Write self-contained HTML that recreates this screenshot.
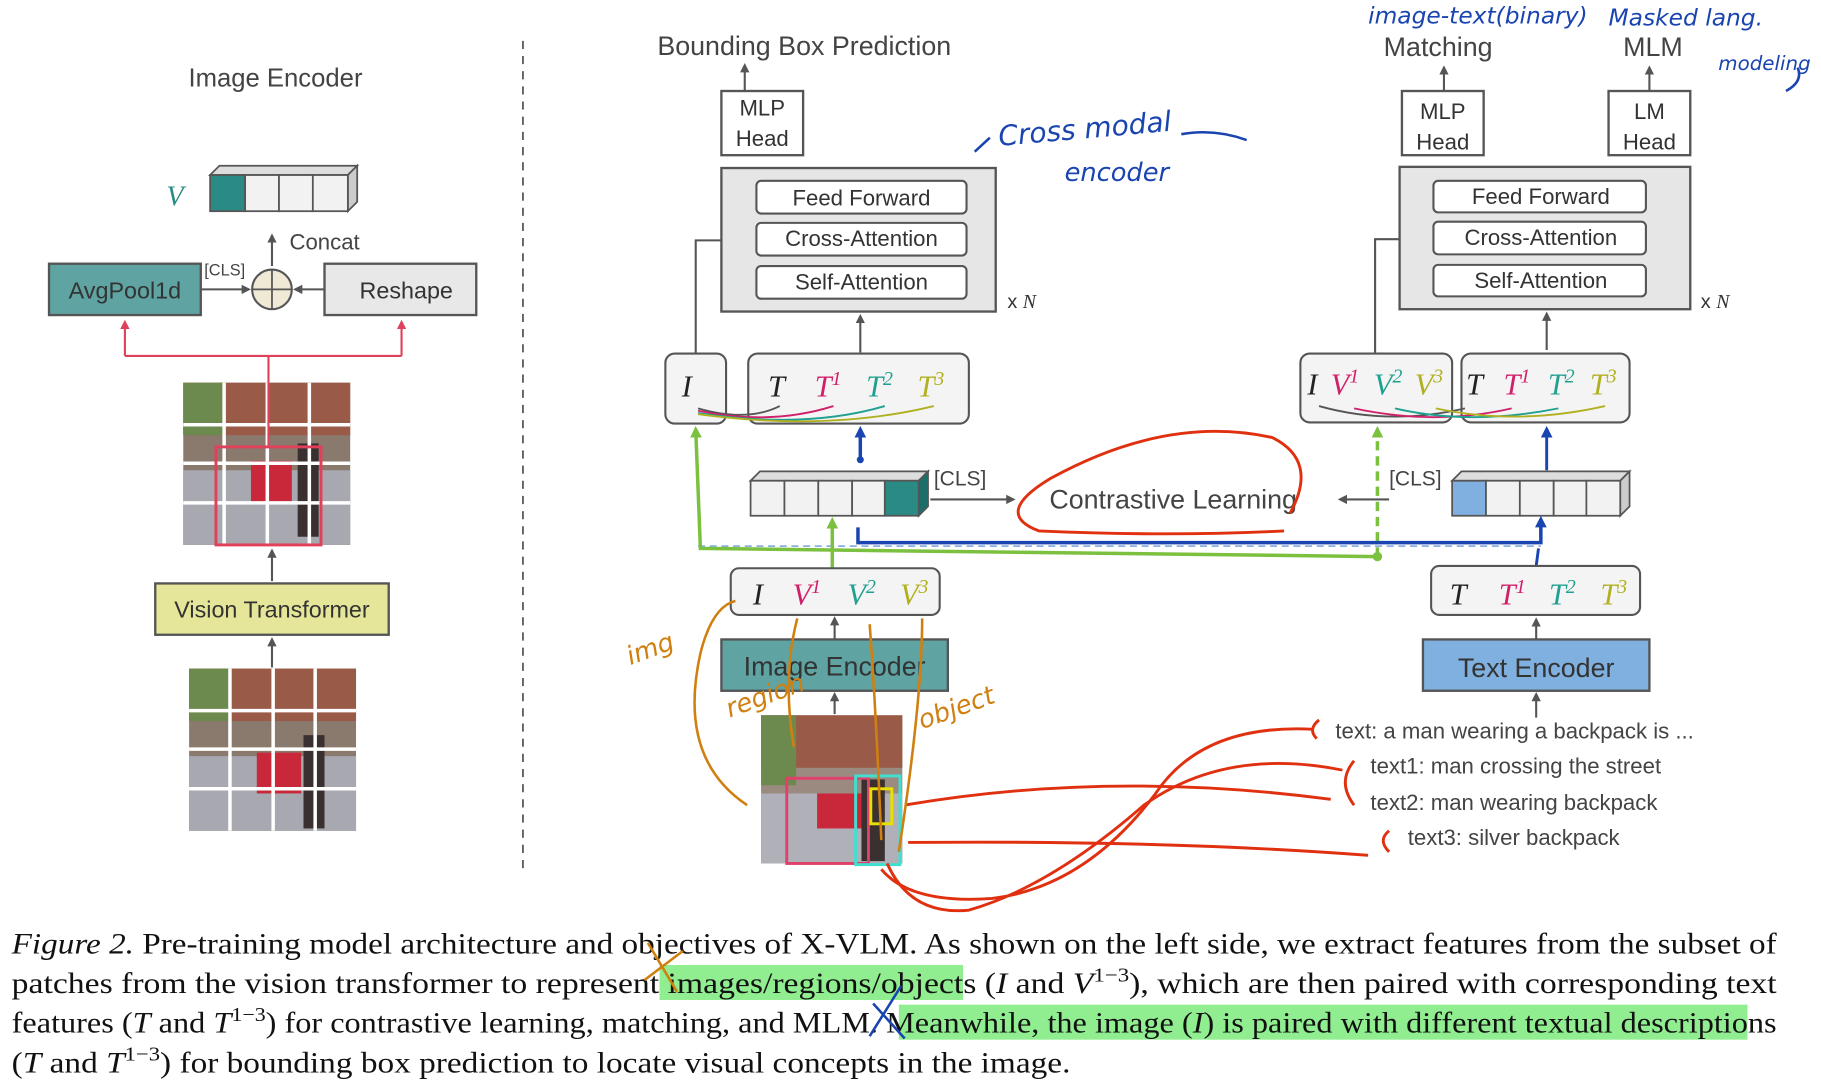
<!DOCTYPE html>
<html><head><meta charset="utf-8"><style>html,body{margin:0;padding:0;background:#fff;width:1821px;height:1084px;overflow:hidden}</style></head><body>
<svg width="1821" height="1084" viewBox="0 0 1560 929" preserveAspectRatio="none" xmlns="http://www.w3.org/2000/svg" font-family="Liberation Sans, sans-serif">
<defs>
<marker id="a" markerWidth="8" markerHeight="8" refX="6" refY="4" orient="auto" markerUnits="userSpaceOnUse"><path d="M0,0 L8,4 L0,8z" fill="#555"/></marker>
<marker id="ap" markerWidth="8" markerHeight="8" refX="6" refY="4" orient="auto" markerUnits="userSpaceOnUse"><path d="M0,0 L8,4 L0,8z" fill="#e0405a"/></marker>
<marker id="ag" markerWidth="10" markerHeight="10" refX="7" refY="5" orient="auto" markerUnits="userSpaceOnUse"><path d="M0,0 L10,5 L0,10z" fill="#7cc040"/></marker>
<marker id="ab" markerWidth="10" markerHeight="10" refX="7" refY="5" orient="auto" markerUnits="userSpaceOnUse"><path d="M0,0 L10,5 L0,10z" fill="#1a44b0"/></marker>
</defs>
<g fill="none" stroke="#555" stroke-width="1.8">
<!-- left -->
<line x1="448" y1="35" x2="448" y2="748" stroke-dasharray="7,6" stroke-width="1.5"/>
<line x1="233" y1="228" x2="233" y2="202" marker-end="url(#a)"/>
<line x1="172" y1="248" x2="213" y2="248" marker-end="url(#a)"/>
<line x1="278" y1="248" x2="253" y2="248" marker-end="url(#a)"/>
<line x1="233" y1="498" x2="233" y2="472" marker-end="url(#a)"/>
<line x1="233" y1="572" x2="233" y2="548" marker-end="url(#a)"/>
<!-- right 1 -->
<line x1="638" y1="78" x2="638" y2="56" marker-end="url(#a)"/>
<polyline points="596,303 596,206 645,206" marker-end="url(#a)"/>
<line x1="737" y1="302" x2="737" y2="271" marker-end="url(#a)"/>
<line x1="797" y1="428" x2="868" y2="428" marker-end="url(#a)"/>
<line x1="1190" y1="428" x2="1148" y2="428" marker-end="url(#a)"/>
<line x1="715" y1="548" x2="715" y2="530" marker-end="url(#a)"/>
<line x1="715" y1="612" x2="715" y2="595" marker-end="url(#a)"/>
<!-- right 2 -->
<line x1="1237" y1="78" x2="1237" y2="58" marker-end="url(#a)"/>
<line x1="1413" y1="78" x2="1413" y2="58" marker-end="url(#a)"/>
<polyline points="1178,303 1178,205 1225,205" marker-end="url(#a)"/>
<line x1="1325" y1="300" x2="1325" y2="269" marker-end="url(#a)"/>
<line x1="1316" y1="548" x2="1316" y2="531" marker-end="url(#a)"/>
<line x1="1316" y1="615" x2="1316" y2="595" marker-end="url(#a)"/>
</g>
<text x="236" y="74" font-size="22" fill="#444" text-anchor="middle">Image Encoder</text>
<text x="150" y="176" font-size="24" fill="#2a8a84" font-style="italic" font-family="Liberation Serif, serif" text-anchor="middle">V</text>
<g stroke="#555" stroke-width="1.5">
<polygon points="180,150 188,142 306,142 298,150" fill="#ddd"/>
<polygon points="298,150 306,142 306,173 298,181" fill="#ccc"/>
<rect x="180" y="150" width="30" height="31" fill="#2a8a84"/>
<rect x="210" y="150" width="29" height="31" fill="#f2f2f2"/>
<rect x="239" y="150" width="29" height="31" fill="#f2f2f2"/>
<rect x="268" y="150" width="30" height="31" fill="#f2f2f2"/>
</g>
<text x="248" y="214" font-size="19" fill="#444">Concat</text>
<rect x="42" y="226" width="130" height="44" fill="#5fa3a3" stroke="#555" stroke-width="2"/>
<text x="107" y="256" font-size="20" fill="#333" text-anchor="middle">AvgPool1d</text>
<text x="175" y="236" font-size="14" fill="#444">[CLS]</text>
<circle cx="233" cy="248" r="17" fill="#efe9d6" stroke="#555" stroke-width="1.8"/>
<line x1="216" y1="248" x2="250" y2="248" stroke="#555" stroke-width="1.5"/><line x1="233" y1="231" x2="233" y2="265" stroke="#555" stroke-width="1.5"/>
<rect x="278" y="226" width="130" height="44" fill="#e8e8e8" stroke="#555" stroke-width="2"/>
<text x="348" y="256" font-size="20" fill="#333" text-anchor="middle">Reshape</text>
<g stroke="#e0405a" stroke-width="1.8" fill="none">
<polyline points="107,305 107,276" marker-end="url(#ap)"/><polyline points="344,305 344,276" marker-end="url(#ap)"/>
<line x1="107" y1="305" x2="344" y2="305"/><line x1="230" y1="305" x2="230" y2="385"/>
</g>
<!-- image grid 1 -->
<g>
<rect x="157" y="328" width="143" height="139" fill="#8a7a6e"/>
<rect x="157" y="328" width="143" height="45" fill="#9a5a48"/>
<rect x="157" y="328" width="35" height="45" fill="#6d8a4e"/>
<rect x="157" y="403" width="143" height="64" fill="#a8a8b0"/>
<rect x="215" y="395" width="35" height="35" fill="#c8283a"/>
<rect x="255" y="380" width="18" height="80" fill="#3a3030"/>
<g stroke="#fff" stroke-width="3"><line x1="157" y1="364" x2="300" y2="364"/><line x1="157" y1="397" x2="300" y2="397"/><line x1="157" y1="431" x2="300" y2="431"/><line x1="192" y1="328" x2="192" y2="467"/><line x1="229" y1="328" x2="229" y2="467"/><line x1="265" y1="328" x2="265" y2="467"/></g>
<rect x="185" y="383" width="90" height="84" fill="none" stroke="#e0405a" stroke-width="2.5"/>
<line x1="230" y1="328" x2="230" y2="383" stroke="#e0405a" stroke-width="1.8"/>
</g>
<rect x="133" y="500" width="200" height="44" fill="#e6e69a" stroke="#555" stroke-width="2"/>
<text x="233" y="529" font-size="20" fill="#333" text-anchor="middle">Vision Transformer</text>
<g>
<rect x="162" y="573" width="143" height="139" fill="#8a7a6e"/>
<rect x="162" y="573" width="143" height="45" fill="#9a5a48"/>
<rect x="162" y="573" width="35" height="45" fill="#6d8a4e"/>
<rect x="162" y="648" width="143" height="64" fill="#a8a8b0"/>
<rect x="220" y="645" width="38" height="35" fill="#c8283a"/>
<rect x="260" y="630" width="18" height="80" fill="#3a3030"/>
<g stroke="#fff" stroke-width="3"><line x1="162" y1="609" x2="305" y2="609"/><line x1="162" y1="642" x2="305" y2="642"/><line x1="162" y1="676" x2="305" y2="676"/><line x1="197" y1="573" x2="197" y2="712"/><line x1="234" y1="573" x2="234" y2="712"/><line x1="270" y1="573" x2="270" y2="712"/></g>
</g>
<!-- right part 1 -->
<text x="689" y="47" font-size="23" fill="#444" text-anchor="middle">Bounding Box Prediction</text>
<rect x="618" y="78" width="70" height="55" fill="#fff" stroke="#555" stroke-width="2"/>
<text x="653" y="99" font-size="19" fill="#333" text-anchor="middle">MLP</text><text x="653" y="125" font-size="19" fill="#333" text-anchor="middle">Head</text>
<rect x="618" y="144" width="235" height="123" fill="#e6e6e6" stroke="#555" stroke-width="2"/>
<g fill="#fff" stroke="#555" stroke-width="1.8"><rect x="648" y="155" width="180" height="28" rx="4"/><rect x="648" y="191" width="180" height="28" rx="4"/><rect x="648" y="228" width="180" height="28" rx="4"/></g>
<g font-size="19" fill="#333" text-anchor="middle"><text x="738" y="176">Feed Forward</text><text x="738" y="211">Cross-Attention</text><text x="738" y="248">Self-Attention</text></g>
<text x="863" y="264" font-size="17" fill="#333">x <tspan font-style="italic" font-family="Liberation Serif, serif">N</tspan></text>
<rect x="570" y="303" width="52" height="60" rx="8" fill="#f4f4f4" stroke="#555" stroke-width="1.8"/>
<rect x="641" y="303" width="189" height="60" rx="8" fill="#f4f4f4" stroke="#555" stroke-width="1.8"/>
<g font-family="Liberation Serif, serif" font-style="italic" font-size="26">
<text x="584" y="340" fill="#222">I</text><text x="658" y="340" fill="#222">T</text>
<text x="698" y="340" fill="#d0206a">T<tspan font-size="17" dy="-10">1</tspan></text>
<text x="742" y="340" fill="#20a090">T<tspan font-size="17" dy="-10">2</tspan></text>
<text x="786" y="340" fill="#b0b020">T<tspan font-size="17" dy="-10">3</tspan></text>
</g>
<g fill="none" stroke-width="1.6"><path d="M598,350 Q640,362 668,348" stroke="#555"/><path d="M598,352 Q660,365 714,348" stroke="#d0206a"/><path d="M598,354 Q690,368 758,348" stroke="#20a090"/><path d="M598,355 Q710,370 800,348" stroke="#b0b020"/></g>
<line x1="737" y1="395" x2="737" y2="368" stroke="#1a44b0" stroke-width="3" marker-end="url(#ab)"/>
<circle cx="737" cy="394" r="3" fill="#1a44b0"/>
<g stroke="#555" stroke-width="1.5">
<polygon points="643,412 651,404 795,404 787,412" fill="#ddd"/>
<polygon points="787,412 795,404 795,434 787,442" fill="#1c6e6a"/>
<rect x="643" y="412" width="29" height="30" fill="#f2f2f2"/><rect x="672" y="412" width="29" height="30" fill="#f2f2f2"/><rect x="701" y="412" width="29" height="30" fill="#f2f2f2"/><rect x="730" y="412" width="28" height="30" fill="#f2f2f2"/><rect x="758" y="412" width="29" height="30" fill="#2a8a84"/>
</g>
<text x="800" y="416" font-size="18" fill="#444">[CLS]</text>
<text x="1005" y="436" font-size="23" fill="#444" text-anchor="middle">Contrastive Learning</text>
<path d="M1100,455 Q1000,460 890,455 Q850,440 900,410 Q1000,355 1090,375 Q1130,395 1105,440" fill="none" stroke="#e03010" stroke-width="2.5"/>
<text x="1190" y="416" font-size="18" fill="#444">[CLS]</text>
<g stroke="#555" stroke-width="1.5">
<polygon points="1244,412 1252,404 1396,404 1388,412" fill="#ddd"/>
<polygon points="1388,412 1396,404 1396,434 1388,442" fill="#ccc"/>
<rect x="1244" y="412" width="29" height="30" fill="#7fb0df"/><rect x="1273" y="412" width="29" height="30" fill="#f2f2f2"/><rect x="1302" y="412" width="29" height="30" fill="#f2f2f2"/><rect x="1331" y="412" width="28" height="30" fill="#f2f2f2"/><rect x="1359" y="412" width="29" height="30" fill="#f2f2f2"/>
</g>
<!-- green / blue connectors -->
<line x1="598" y1="468" x2="1320" y2="468" stroke="#8ab0e0" stroke-width="1.5" stroke-dasharray="6,4"/>
<polyline points="1180,477 600,470 596,368" fill="none" stroke="#7cc040" stroke-width="3" marker-end="url(#ag)"/>
<line x1="1180" y1="477" x2="1180" y2="368" stroke="#7cc040" stroke-width="3" stroke-dasharray="8,5" marker-end="url(#ag)"/>
<circle cx="1180" cy="477" r="4" fill="#7cc040"/>
<line x1="713" y1="487" x2="713" y2="446" stroke="#7cc040" stroke-width="3" marker-end="url(#ag)"/>
<polyline points="735,452 735,465 1320,465 1320,445" fill="none" stroke="#1a44b0" stroke-width="3" marker-end="url(#ab)"/>
<polyline points="1316,485 1318,470" fill="none" stroke="#1a44b0" stroke-width="2.5"/>
<rect x="626" y="487" width="179" height="40" rx="7" fill="#f4f4f4" stroke="#555" stroke-width="1.8"/>
<g font-family="Liberation Serif, serif" font-style="italic" font-size="26">
<text x="645" y="518" fill="#222">I</text>
<text x="679" y="518" fill="#d0206a">V<tspan font-size="17" dy="-10">1</tspan></text>
<text x="726" y="518" fill="#20a090">V<tspan font-size="17" dy="-10">2</tspan></text>
<text x="771" y="518" fill="#b0b020">V<tspan font-size="17" dy="-10">3</tspan></text>
</g>
<rect x="618" y="548" width="194" height="44" fill="#5fa3a3" stroke="#555" stroke-width="2"/>
<text x="715" y="579" font-size="23" fill="#333" text-anchor="middle">Image Encoder</text>
<!-- photo -->
<rect x="652" y="613" width="121" height="127" fill="#9a8a80"/>
<rect x="652" y="613" width="121" height="45" fill="#9a5a48"/>
<rect x="652" y="613" width="30" height="60" fill="#6d8a4e"/>
<rect x="652" y="680" width="121" height="60" fill="#b0b0b8"/>
<rect x="700" y="680" width="40" height="30" fill="#c8283a"/>
<rect x="738" y="668" width="20" height="70" fill="#3a3030"/>
<rect x="674" y="667" width="70" height="73" fill="none" stroke="#e0406a" stroke-width="2.5"/>
<rect x="733" y="665" width="38" height="76" fill="none" stroke="#40e0d0" stroke-width="2.5"/>
<rect x="746" y="676" width="18" height="30" fill="none" stroke="#e8e000" stroke-width="2.5"/>
<!-- right part 2 -->
<text x="1232" y="48" font-size="23" fill="#444" text-anchor="middle">Matching</text>
<text x="1416" y="48" font-size="23" fill="#444" text-anchor="middle">MLM</text>
<rect x="1201" y="78" width="70" height="55" fill="#fff" stroke="#555" stroke-width="2"/>
<text x="1236" y="102" font-size="19" fill="#333" text-anchor="middle">MLP</text><text x="1236" y="128" font-size="19" fill="#333" text-anchor="middle">Head</text>
<rect x="1378" y="78" width="70" height="55" fill="#fff" stroke="#555" stroke-width="2"/>
<text x="1413" y="102" font-size="19" fill="#333" text-anchor="middle">LM</text><text x="1413" y="128" font-size="19" fill="#333" text-anchor="middle">Head</text>
<rect x="1199" y="143" width="249" height="122" fill="#e6e6e6" stroke="#555" stroke-width="2"/>
<g fill="#fff" stroke="#555" stroke-width="1.8"><rect x="1228" y="155" width="182" height="27" rx="4"/><rect x="1228" y="190" width="182" height="28" rx="4"/><rect x="1228" y="227" width="182" height="27" rx="4"/></g>
<g font-size="19" fill="#333" text-anchor="middle"><text x="1320" y="175">Feed Forward</text><text x="1320" y="210">Cross-Attention</text><text x="1320" y="247">Self-Attention</text></g>
<text x="1457" y="264" font-size="17" fill="#333">x <tspan font-style="italic" font-family="Liberation Serif, serif">N</tspan></text>
<rect x="1114" y="303" width="130" height="59" rx="8" fill="#f4f4f4" stroke="#555" stroke-width="1.8"/>
<rect x="1252" y="303" width="144" height="59" rx="8" fill="#f4f4f4" stroke="#555" stroke-width="1.8"/>
<g font-family="Liberation Serif, serif" font-style="italic" font-size="26">
<text x="1120" y="338" fill="#222">I</text>
<text x="1140" y="338" fill="#d0206a">V<tspan font-size="17" dy="-10">1</tspan></text>
<text x="1177" y="338" fill="#20a090">V<tspan font-size="17" dy="-10">2</tspan></text>
<text x="1212" y="338" fill="#b0b020">V<tspan font-size="17" dy="-10">3</tspan></text>
<text x="1256" y="338" fill="#222">T</text>
<text x="1288" y="338" fill="#d0206a">T<tspan font-size="17" dy="-10">1</tspan></text>
<text x="1326" y="338" fill="#20a090">T<tspan font-size="17" dy="-10">2</tspan></text>
<text x="1362" y="338" fill="#b0b020">T<tspan font-size="17" dy="-10">3</tspan></text>
</g>
<g fill="none" stroke-width="1.6"><path d="M1130,348 Q1190,365 1255,350" stroke="#555"/><path d="M1160,350 Q1230,365 1295,350" stroke="#d0206a"/><path d="M1195,350 Q1260,365 1335,350" stroke="#20a090"/><path d="M1230,350 Q1300,365 1375,348" stroke="#b0b020"/></g>
<line x1="1325" y1="403" x2="1325" y2="368" stroke="#1a44b0" stroke-width="2.5" marker-end="url(#ab)"/>
<rect x="1226" y="485" width="179" height="42" rx="7" fill="#f4f4f4" stroke="#555" stroke-width="1.8"/>
<g font-family="Liberation Serif, serif" font-style="italic" font-size="26">
<text x="1242" y="518" fill="#222">T</text>
<text x="1284" y="518" fill="#d0206a">T<tspan font-size="17" dy="-10">1</tspan></text>
<text x="1327" y="518" fill="#20a090">T<tspan font-size="17" dy="-10">2</tspan></text>
<text x="1371" y="518" fill="#b0b020">T<tspan font-size="17" dy="-10">3</tspan></text>
</g>
<rect x="1219" y="548" width="194" height="44" fill="#7fb0df" stroke="#555" stroke-width="2"/>
<text x="1316" y="580" font-size="23" fill="#333" text-anchor="middle">Text Encoder</text>
<g font-size="19" fill="#444">
<text x="1144" y="633">text: a man wearing a backpack is ...</text>
<text x="1174" y="663">text1: man crossing the street</text>
<text x="1174" y="694">text2: man wearing backpack</text>
<text x="1206" y="724">text3: silver backpack</text>
</g>
<!-- handwriting -->
<g fill="none" stroke="#e03010" stroke-width="2.5">
<path d="M1130,617 Q1120,625 1128,633"/><path d="M1160,652 Q1145,670 1160,690"/><path d="M1190,712 Q1180,720 1190,730"/>
<path d="M1125,625 Q1030,620 990,680 Q930,760 850,770 Q780,775 755,745"/>
<path d="M1140,685 Q950,660 775,690"/>
<path d="M1172,733 Q1000,720 778,722"/>
<path d="M1150,660 Q1050,640 980,690 Q900,760 830,780 Q780,785 760,740"/>
</g>
<g fill="none" stroke="#d08010" stroke-width="2.2">
<path d="M640,690 Q580,650 600,560 Q610,520 630,515"/>
<path d="M680,640 Q670,580 683,530"/><path d="M755,720 Q750,600 745,535"/><path d="M770,730 Q790,600 790,530"/>
</g>
<g font-family="DejaVu Sans, sans-serif" font-style="italic" fill="#d08010" font-size="22">
<text x="540" y="570" transform="rotate(-20 540 570)">img</text>
<text x="625" y="615" transform="rotate(-20 625 615)">region</text>
<text x="790" y="625" transform="rotate(-20 790 625)">object</text>
</g>
<g font-family="DejaVu Sans, sans-serif" font-style="italic" fill="#1a44b0">
<text x="856" y="125" font-size="24" transform="rotate(-5 856 125)">Cross modal</text>
<text x="912" y="155" font-size="22">encoder</text>
<text x="1172" y="20" font-size="20">image-text(binary)</text>
<text x="1378" y="22" font-size="20">Masked lang.</text>
<text x="1472" y="60" font-size="17">modeling</text>
</g>
<g fill="none" stroke="#1a44b0" stroke-width="2.2"><path d="M1012,115 Q1040,110 1068,120"/><path d="M848,118 L835,130"/><path d="M1540,58 Q1545,70 1530,78"/></g>
<!-- caption -->
<rect x="565" y="827" width="260" height="30" fill="#90ee90"/>
<rect x="770" y="861" width="727" height="30" fill="#90ee90"/>
<g font-family="Liberation Serif, serif" font-size="25" fill="#111">
<text x="10" y="817" textLength="1512" lengthAdjust="spacingAndGlyphs"><tspan font-style="italic">Figure 2.</tspan> Pre-training model architecture and objectives of X-VLM. As shown on the left side, we extract features from the subset of</text>
<text x="10" y="851" textLength="1512" lengthAdjust="spacingAndGlyphs">patches from the vision transformer to represent images/regions/objects (<tspan font-style="italic">I</tspan> and <tspan font-style="italic">V</tspan><tspan font-size="17" dy="-10">1−3</tspan><tspan dy="10">), which are then paired with corresponding text</tspan></text>
<text x="10" y="885" textLength="1512" lengthAdjust="spacingAndGlyphs">features (<tspan font-style="italic">T</tspan> and <tspan font-style="italic">T</tspan><tspan font-size="17" dy="-10">1−3</tspan><tspan dy="10">) for contrastive learning, matching, and MLM. Meanwhile, the image (</tspan><tspan font-style="italic">I</tspan>) is paired with different textual descriptions</text>
<text x="10" y="919" textLength="907" lengthAdjust="spacingAndGlyphs">(<tspan font-style="italic">T</tspan> and <tspan font-style="italic">T</tspan><tspan font-size="17" dy="-10">1−3</tspan><tspan dy="10">) for bounding box prediction to locate visual concepts in the image.</tspan></text>
</g>
<g fill="none" stroke-width="2.2"><path d="M555,808 L580,850 M552,840 L585,815" stroke="#d08010"/><path d="M748,860 L775,890 M745,888 L772,845" stroke="#1a44b0"/></g>
</svg>
</body></html>
